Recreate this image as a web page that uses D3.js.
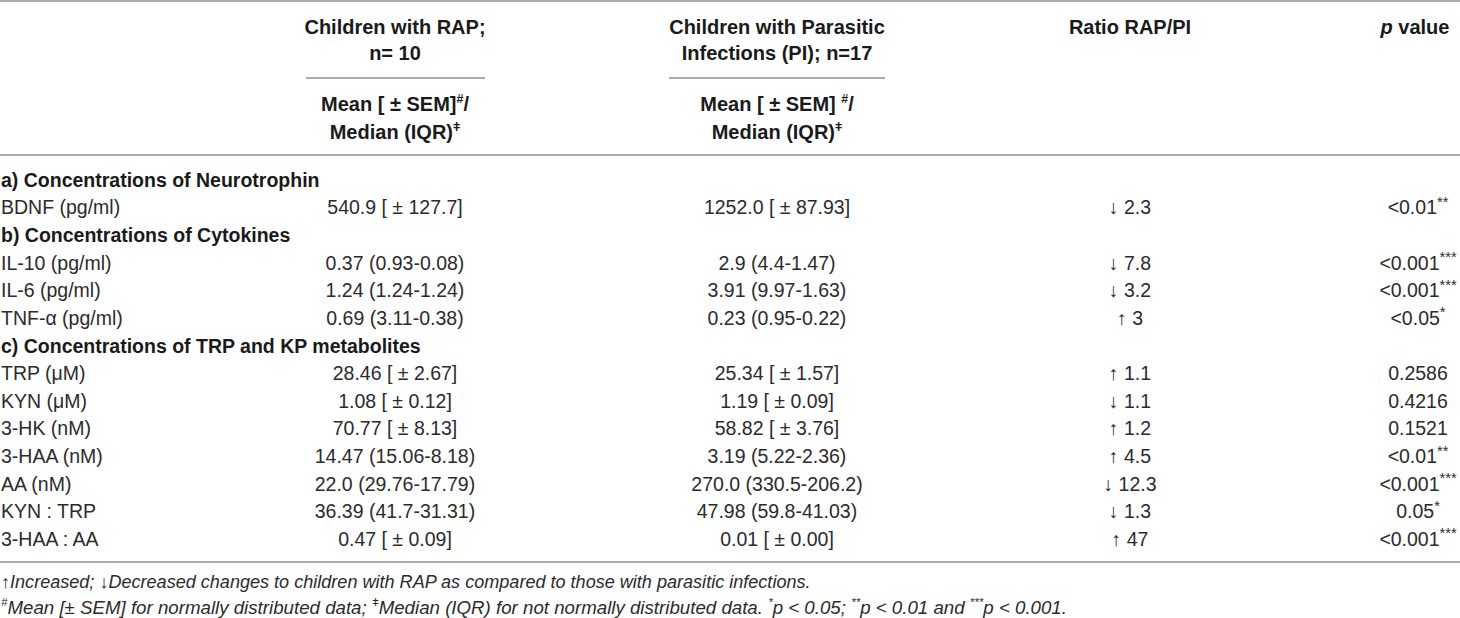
<!DOCTYPE html>
<html>
<head>
<meta charset="utf-8">
<script src="https://cdn.jsdelivr.net/npm/d3@7"></script>
<style>
  html, body { margin: 0; padding: 0; background: #fff; }
  svg { display: block; font-family: "Liberation Sans", Arial, Helvetica, sans-serif; }
</style>
</head>
<body>
<svg id="tbl"></svg>
<script>
const W = 1460, H = 618;

// Table content
const sectionTitles = [
  'a) Concentrations of Neurotrophin',
  'b) Concentrations of Cytokines',
  'c) Concentrations of TRP and KP metabolites'
];
const measures = ['BDNF (pg/ml)', 'IL-10 (pg/ml)', 'IL-6 (pg/ml)', 'TNF-α (pg/ml)',
  'TRP (μM)', 'KYN (μM)', '3-HK (nM)', '3-HAA (nM)', 'AA (nM)', 'KYN : TRP', '3-HAA : AA'];
const measureSection = [0, 1, 1, 1, 2, 2, 2, 2, 2, 2, 2];
const rapValues = ['540.9 [ ± 127.7]', '0.37 (0.93-0.08)', '1.24 (1.24-1.24)', '0.69 (3.11-0.38)',
  '28.46 [ ± 2.67]', '1.08 [ ± 0.12]', '70.77 [ ± 8.13]', '14.47 (15.06-8.18)',
  '22.0 (29.76-17.79)', '36.39 (41.7-31.31)', '0.47 [ ± 0.09]'];
const piValues = ['1252.0 [ ± 87.93]', '2.9 (4.4-1.47)', '3.91 (9.97-1.63)', '0.23 (0.95-0.22)',
  '25.34 [ ± 1.57]', '1.19 [ ± 0.09]', '58.82 [ ± 3.76]', '3.19 (5.22-2.36)',
  '270.0 (330.5-206.2)', '47.98 (59.8-41.03)', '0.01 [ ± 0.00]'];
const ratioDir = ['↓', '↓', '↓', '↑', '↑', '↓', '↑', '↑', '↓', '↓', '↑'];
const ratioValues = ['2.3', '7.8', '3.2', '3', '1.1', '1.1', '1.2', '4.5', '12.3', '1.3', '47'];
const pValues = ['<0.01', '<0.001', '<0.001', '<0.05', '0.2586', '0.4216', '0.1521', '<0.01', '<0.001', '0.05', '<0.001'];
const pStars = ['**', '***', '***', '*', '', '', '', '**', '***', '*', '***'];

const colKeys = ['label', 'rap', 'pi', 'ratio', 'p'];
const footnote1 = '↑Increased; ↓Decreased changes to children with RAP as compared to those with parasitic infections.';
const footnote2 = [{ sup: '#' }, 'Mean [± SEM] for normally distributed data; ', { sup: 'ǂ' },
  'Median (IQR) for not normally distributed data. ', { sup: '*' }, 'p < 0.05; ', { sup: '**' },
  'p < 0.01 and ', { sup: '***' }, 'p < 0.001.'];

// build row list: section header then its measures
const rows = [];
sectionTitles.forEach((title, si) => {
  rows.push({ type: 'section', text: title });
  measures.forEach((m, i) => {
    if (measureSection[i] === si) rows.push({ type: 'row', i });
  });
});

const svg = d3.select('#tbl').attr('width', W).attr('height', H).attr('viewBox', `0 0 ${W} ${H}`);

const x = d3.scaleOrdinal().domain(colKeys).range([1, 395, 777, 1130, 1418]);
const y = d3.scalePoint().domain(d3.range(rows.length)).range([180, 539]);

const bodySize = 19.5, headSize = 20;
const textCol = '#2b2b2b', ruleCol = '#8e8e8e';

function richText(parent, px, cy, segs, o) {
  const size = o.size;
  const supScale = o.supScale || 0.62;
  const t = parent.append('text')
    .attr('x', px).attr('y', cy + size * 0.35)
    .attr('text-anchor', o.anchor || 'middle')
    .attr('font-size', size)
    .attr('font-weight', o.weight || 'normal')
    .attr('font-style', o.style || 'normal')
    .attr('fill', o.fill || textCol);
  let raised = false;
  segs.forEach(s => {
    const isSup = typeof s !== 'string';
    const sp = t.append('tspan').text(isSup ? s.sup : s);
    if (isSup) {
      sp.attr('font-size', size * supScale);
      if (!raised) { sp.attr('dy', -size * 0.38); raised = true; }
    } else if (raised) {
      sp.attr('dy', size * 0.38);
      raised = false;
    }
  });
  return t;
}

// fit a line of text to a measured width
function fitSize(segs, target, style) {
  const probe = richText(svg, 0, -100, segs, { size: 16, style, anchor: 'start' });
  const s = 16 * target / probe.node().getComputedTextLength();
  probe.remove();
  return s;
}

// Rules
const rules = [
  { x1: 0, x2: W, y: 1 },
  { x1: 306, x2: 485, y: 78 },
  { x1: 669, x2: 885, y: 78 },
  { x1: 0, x2: W, y: 155 },
  { x1: 0, x2: W, y: 562 }
];
svg.append('g').selectAll('line').data(rules).join('line')
  .attr('x1', d => d.x1).attr('x2', d => d.x2)
  .attr('y1', d => d.y).attr('y2', d => d.y)
  .attr('stroke', ruleCol).attr('stroke-width', 1.5);

// Header
const head = svg.append('g');
const hOpt = { size: headSize, weight: 'bold', fill: '#1a1a1a' };
richText(head, x('rap'), 27, ['Children with RAP;'], hOpt);
richText(head, x('rap'), 53, ['n= 10'], hOpt);
richText(head, x('rap'), 104, ['Mean [ ± SEM]', { sup: '#' }, '/'], hOpt);
richText(head, x('rap'), 132, ['Median (IQR)', { sup: 'ǂ' }], hOpt);
richText(head, x('pi'), 27, ['Children with Parasitic'], hOpt);
richText(head, x('pi'), 53, ['Infections (PI); n=17'], hOpt);
richText(head, x('pi'), 104, ['Mean [ ± SEM] ', { sup: '#' }, '/'], hOpt);
richText(head, x('pi'), 132, ['Median (IQR)', { sup: 'ǂ' }], hOpt);
richText(head, x('ratio'), 27, ['Ratio RAP/PI'], hOpt);
const pv = richText(head, x('p') - 3, 27, ['p', ' value'], hOpt);
pv.select('tspan').attr('font-style', 'italic');

// Body
const body = svg.append('g');
rows.forEach((r, k) => {
  const cy = y(k);
  if (r.type === 'section') {
    richText(body, x('label'), cy, [r.text], { size: bodySize, weight: 'bold', anchor: 'start', fill: '#1a1a1a' });
    return;
  }
  const i = r.i;
  richText(body, x('label'), cy, [measures[i]], { size: bodySize, anchor: 'start' });
  richText(body, x('rap'), cy, [rapValues[i]], { size: bodySize });
  richText(body, x('pi'), cy, [piValues[i]], { size: bodySize });
  richText(body, x('ratio'), cy, [`${ratioDir[i]} ${ratioValues[i]}`], { size: bodySize });
  const segs = pStars[i] ? [pValues[i], { sup: pStars[i] }] : [pValues[i]];
  richText(body, x('p'), cy, segs, { size: bodySize, supScale: 0.75 });
});

// Footnotes
const foot = svg.append('g');
const fs1 = fitSize([footnote1], 810, 'italic');
const fs2 = fitSize(footnote2, 1067, 'italic');
richText(foot, 1, 582, [footnote1], { size: fs1, style: 'italic', anchor: 'start' });
richText(foot, 1, 607, footnote2, { size: fs2, style: 'italic', anchor: 'start' });
</script>
</body>
</html>
